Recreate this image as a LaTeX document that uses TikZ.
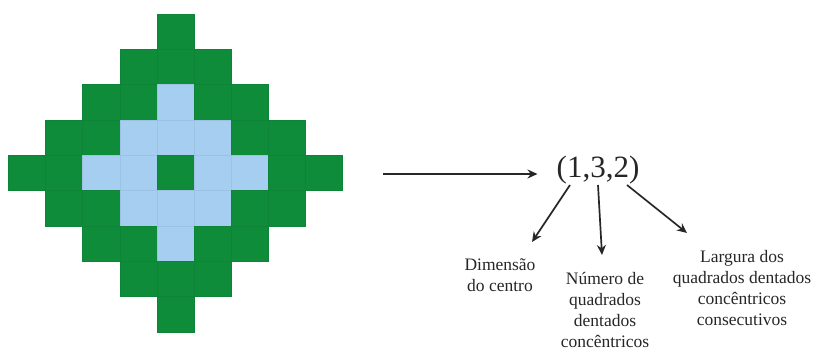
\documentclass[tikz,border=0pt]{standalone}
\usepackage{fontspec}
\setmainfont{Liberation Serif}
\usetikzlibrary{arrows.meta}
\definecolor{tilegreen}{HTML}{0E8C3A}
\definecolor{tileblue}{HTML}{A6CEF0}
\definecolor{inkgray}{HTML}{262626}
\tikzset{
  tile/.style={line width=0.4pt},
  arr/.style={draw=inkgray, line width=1.7pt,
    -{Stealth[length=10pt,width=9pt]}},
  tuple/.style={inner sep=0pt, font=\fontsize{31}{35}\selectfont, text=inkgray},
  caption/.style={align=center, inner sep=0pt, text=inkgray,
    font=\fontsize{17.5}{20.8}\selectfont}
}
\begin{document}
\begin{tikzpicture}[x=1pt,y=-1pt]
\useasboundingbox (0,0) rectangle (816,351);
% diamond of tiles: green centre, two light-blue rings, two green rings
\foreach \r in {0,...,8}{
  \foreach \c in {0,...,8}{
    \pgfmathtruncatemacro{\d}{abs(\r-4)+abs(\c-4)}
    \ifnum\d<5
      \ifnum\d=0 \def\tc{tilegreen}\else
        \ifnum\d<3 \def\tc{tileblue}\else \def\tc{tilegreen}\fi
      \fi
      \path[tile, fill=\tc, draw=\tc!94!black]
        (8.3+37.15*\c, 14+35.3*\r) rectangle ++(37.15,35.3);
    \fi
  }
}
% code triple and its captions
\node[tuple] (code) at (598,170) {(1,3,2)};
\node[caption] (centre) at (500,275) {Dimensão\\do centro};
\node[caption] (count) at (605,310) {Número de\\quadrados\\dentados\\concêntricos};
\node[caption] (width) at (742,288) {Largura dos\\quadrados dentados\\concêntricos\\consecutivos};
% connectors
\coordinate (src) at (383,174);
\coordinate (s1) at (570,185);
\coordinate (s2) at (598,185);
\coordinate (s3) at (627,185);
\coordinate (t1) at (532,242);
\coordinate (t2) at (602,255);
\coordinate (t3) at (687,233);
\draw[arr] (src) -- ([xshift=-19pt]code.west |- src);
\draw[arr] (s1) -- (t1);
\draw[arr] (s2) -- (t2);
\draw[arr] (s3) -- (t3);
\end{tikzpicture}
\end{document}
